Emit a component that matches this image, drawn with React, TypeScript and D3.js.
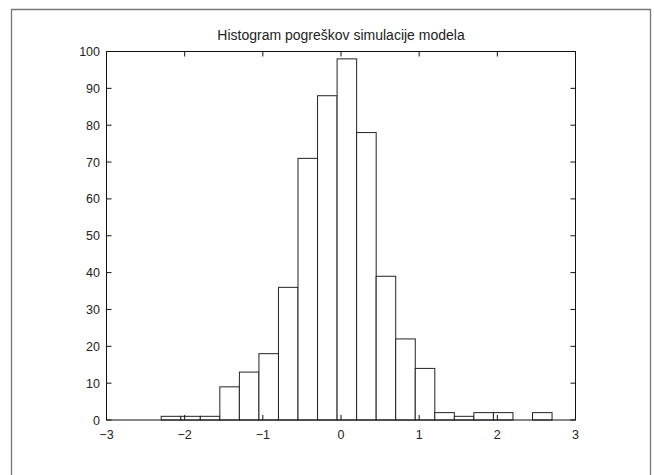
import React from "react";
import * as d3 from "d3";

const title = "Histogram pogreškov simulacije modela";
const binEdges = [-2.3, -2.05, -1.8, -1.55, -1.3, -1.05, -0.8, -0.55, -0.3, -0.05, 0.2, 0.45, 0.7, 0.95, 1.2, 1.45, 1.7, 1.95, 2.2, 2.45, 2.7];
const counts = [1, 1, 1, 9, 13, 18, 36, 71, 88, 98, 78, 39, 22, 14, 2, 1, 2, 2, 0, 2];
const xTicks = [-3, -2, -1, 0, 1, 2, 3];
const yTicks = [0, 10, 20, 30, 40, 50, 60, 70, 80, 90, 100];

const W = 654;
const H = 475;
const left = 106.5;
const right = 575.5;
const top = 51.5;
const bottom = 420;
const font = "'Liberation Sans', Arial, Helvetica, sans-serif";

export default function App() {
  const x = d3.scaleLinear().domain([-3, 3]).range([left, right]);
  const y = d3.scaleLinear().domain([0, 100]).range([bottom, top]);
  const tl = 5;
  const fmt = (v: number) => (v < 0 ? "\u2212" + Math.abs(v) : String(v));
  return (
    <svg width={W} height={H} style={{ position: "absolute", left: 0, top: 0, background: "#fff" }}>
      <rect x={0} y={0} width={W} height={H} fill="#fff" />
      <path d={`M11.5,${H} V9.5 H650.5 V${H}`} fill="none" stroke="#777" strokeWidth={1.3} />
      {counts.map((c, i) => {
        const x0 = x(binEdges[i]);
        const x1 = x(binEdges[i + 1]);
        const y0 = y(c);
        return (
          <rect key={i} x={x0} y={y0} width={x1 - x0} height={bottom - y0} fill="#fff" stroke="#222" strokeWidth={1} />
        );
      })}
      <rect x={left} y={top} width={right - left} height={bottom - top} fill="none" stroke="#111" strokeWidth={1} />
      {xTicks.map((t) => (
        <g key={"x" + t}>
          <line x1={x(t)} x2={x(t)} y1={bottom} y2={bottom - tl} stroke="#111" />
          <line x1={x(t)} x2={x(t)} y1={top} y2={top + tl} stroke="#111" />
          <text x={x(t)} y={438.5} textAnchor="middle" fontSize={12.5} fontFamily={font} fill="#222">
            {fmt(t)}
          </text>
        </g>
      ))}
      {yTicks.map((t) => (
        <g key={"y" + t}>
          <line x1={left} x2={left + tl} y1={y(t)} y2={y(t)} stroke="#111" />
          <line x1={right} x2={right - tl} y1={y(t)} y2={y(t)} stroke="#111" />
          <text x={100} y={y(t) + 4.5} textAnchor="end" fontSize={12.5} fontFamily={font} fill="#222">
            {t}
          </text>
        </g>
      ))}
      <text x={(left + right) / 2} y={39.5} textAnchor="middle" fontSize={14} fontFamily={font} fill="#222">
        {title}
      </text>
    </svg>
  );
}
